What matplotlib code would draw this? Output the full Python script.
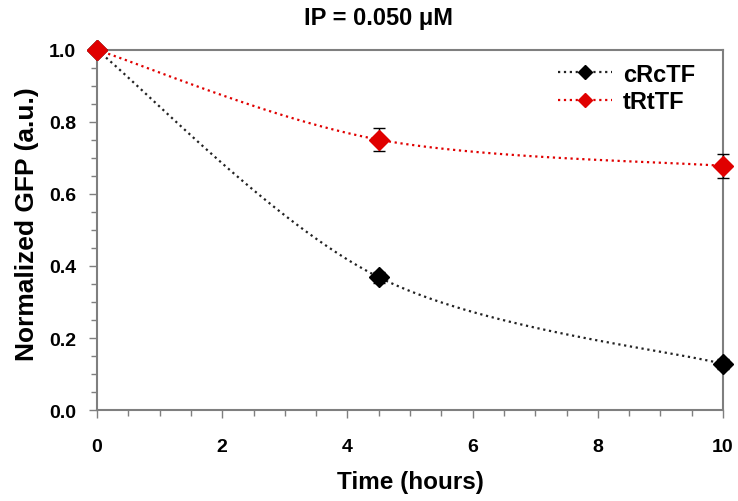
import numpy as np
import matplotlib.pyplot as plt
from matplotlib.ticker import MultipleLocator

plt.rcParams['font.family'] = ['Liberation Sans', 'DejaVu Sans']
plt.rcParams['font.weight'] = 'bold'

# data
time_h = [0, 4.5, 10]
crctf = [1.0, 0.369, 0.128]
crctf_err = [0.0, 0.015, 0.015]
trttf = [1.0, 0.751, 0.678]
trttf_err = [0.0, 0.032, 0.034]


def smooth(x, y, n=60):
    # excel-like smoothed line (catmull-rom bezier)
    x = np.asarray(x, float)
    y = np.asarray(y, float)
    pts = np.column_stack([x, y])
    out = []
    for i in range(len(pts) - 1):
        p0 = pts[max(i - 1, 0)]
        p1 = pts[i]
        p2 = pts[i + 1]
        p3 = pts[min(i + 2, len(pts) - 1)]
        c1 = p1 + (p2 - p0) / 6
        c2 = p2 - (p3 - p1) / 6
        t = np.linspace(0, 1, n)[:, None]
        seg = ((1 - t) ** 3) * p1 + 3 * ((1 - t) ** 2) * t * c1 + 3 * (1 - t) * t ** 2 * c2 + t ** 3 * p2
        out.append(seg)
    res = np.vstack(out)
    return res[:, 0], res[:, 1]


fig = plt.figure(figsize=(7.38, 5.02), dpi=100)
ax = fig.add_axes([97 / 738, 1 - 411 / 502, 626 / 738, 360 / 502])

red = '#e00000'
sx, sy = smooth(time_h, crctf)
ax.plot(sx, sy, ':', color='#222222', lw=1.6)
sx, sy = smooth(time_h, trttf)
ax.plot(sx, sy, ':', color=red, lw=1.6)

for vals, errs, col in [(crctf, crctf_err, 'black'), (trttf, trttf_err, red)]:
    eb = ax.errorbar(time_h, vals, yerr=errs, fmt='D', color=col, ms=10,
                     ecolor='black', elinewidth=1, capsize=4, zorder=5)
    for art in [eb.lines[0]] + list(eb.lines[1]) + list(eb.lines[2]):
        art.set_clip_on(False)

# legend handles
ax.plot([], [], ':', color='#222222', lw=1.6, marker='D', ms=7.5, mfc='black', mec='black', label='cRcTF')
ax.plot([], [], ':', color=red, lw=1.6, marker='D', ms=7.5, mfc=red, mec=red, label='tRtTF')
ax.legend(loc='upper left', frameon=False, fontsize=17, handlelength=2.3, handletextpad=0.45,
          bbox_to_anchor=(0.736, 0.965), borderaxespad=0, borderpad=0, labelspacing=0.2)

ax.set_xlim(0, 10)
ax.set_ylim(0, 1.0)
ax.xaxis.set_major_locator(MultipleLocator(2))
ax.xaxis.set_minor_locator(MultipleLocator(0.5))
ax.yaxis.set_major_locator(MultipleLocator(0.2))
ax.yaxis.set_minor_locator(MultipleLocator(0.05))
ax.yaxis.set_major_formatter(plt.FormatStrFormatter('%.1f'))

for s in ax.spines.values():
    s.set_color('#7f7f7f')
    s.set_linewidth(1.5)
ax.tick_params(which='both', direction='out', color='#7f7f7f', width=1)
ax.tick_params(which='major', length=6, labelsize=14, pad=9)
ax.tick_params(which='minor', length=4)
ax.tick_params(axis='x', pad=14)
for lab in ax.get_xticklabels() + ax.get_yticklabels():
    lab.set_fontweight('bold')

fig.text(410 / 738, 1 - 483 / 502, 'Time (hours)', ha='center', va='center',
         fontsize=17.5, fontweight='bold')
fig.text(27 / 738, 1 - 224 / 502, 'Normalized GFP (a.u.)', ha='center', va='center',
         rotation=90, fontsize=19, fontweight='bold')
fig.text(379 / 738, 1 - 18 / 502, 'IP = 0.050 μM', ha='center', va='center',
         fontsize=17, fontweight='bold')

fig.savefig('out.png', dpi=100)
